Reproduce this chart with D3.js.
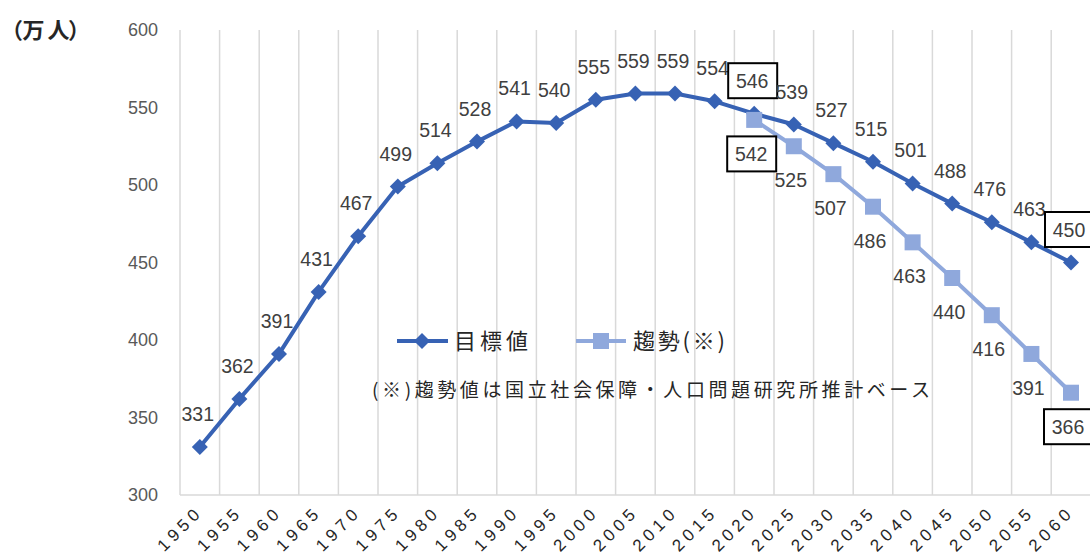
<!DOCTYPE html>
<html><head><meta charset="utf-8">
<script src="https://cdn.jsdelivr.net/npm/d3@7"></script>
<style>
html,body{margin:0;padding:0;background:#fff;}
svg{display:block;}
</style></head>
<body>
<svg id="c" width="1090" height="556"></svg>
<script>
const years = ["1950","1955","1960","1965","1970","1975","1980","1985","1990","1995","2000","2005","2010","2015","2020","2025","2030","2035","2040","2045","2050","2055","2060"];
const targetValues = [331,362,391,431,467,499,514,528,541,540,555,559,559,554,546,539,527,515,501,488,476,463,450];
const trendYears = ["2020","2025","2030","2035","2040","2045","2050","2055","2060"];
const trendValues = [542,525,507,486,463,440,416,391,366];
const yTicks = [300,350,400,450,500,550,600];
const boxedYears = ["2020","2060"];
const seriesNames = ["目標値","趨勢(※)"];
const yTitle = ["（","万","人","）"];
const note = "(※)趨勢値は国立社会保障・人口問題研究所推計ベース";

const svg = d3.select("#c");
const mainColor = "#3762b4", trendColor = "#8fa8dc";
const x = d3.scaleBand().domain(years).range([180, 1090.8]).padding(0);
const y = d3.scaleLinear().domain([300, 600]).range([495, 30]);
const cx = d => x(d) + x.bandwidth() / 2;

// vertical gridlines
svg.append("g").selectAll("line").data(years).join("line")
  .attr("x1", d => x(d)).attr("x2", d => x(d))
  .attr("y1", y(600)).attr("y2", y(300))
  .attr("stroke", "#d9d9d9").attr("stroke-width", 1.5);
// bottom axis line
svg.append("line").attr("x1", 180).attr("x2", 1090).attr("y1", y(300)).attr("y2", y(300))
  .attr("stroke", "#d9d9d9").attr("stroke-width", 1.5);

// y axis
const ya = svg.append("g").attr("transform", "translate(158,0)")
  .call(d3.axisLeft(y).tickValues(yTicks).tickSize(0).tickPadding(0));
ya.select(".domain").remove();
ya.selectAll("text").attr("font-family", "'Liberation Sans', Arial, sans-serif")
  .attr("font-size", 18).attr("fill", "#595959");

// y title (each glyph placed)
const titleX = [1, 22.5, 47.5, 68];
svg.append("g").selectAll("text").data(yTitle).join("text")
  .attr("x", (d, i) => titleX[i]).attr("y", 38).text(d => d)
  .attr("font-family", "'Noto Sans CJK JP', sans-serif").attr("font-size", 22).attr("font-weight", "bold")
  .attr("fill", "#262626");

// x labels
svg.append("g").selectAll("text").data(years).join("text")
  .attr("transform", d => `translate(${cx(d) + 4},${513}) rotate(-45)`)
  .attr("text-anchor", "end")
  .attr("font-family", "'Liberation Sans', Arial, sans-serif").attr("font-size", 17)
  .attr("letter-spacing", 4.5).attr("fill", "#262626")
  .text(d => d);

// lines
const targetData = years.map((d, i) => ({ year: d, v: targetValues[i] }));
const trendData = trendYears.map((d, i) => ({ year: d, v: trendValues[i] }));
const line = d3.line().x(d => cx(d.year)).y(d => y(d.v));

svg.append("path").datum(targetData).attr("d", line).attr("fill", "none")
  .attr("stroke", mainColor).attr("stroke-width", 4).attr("stroke-linejoin", "round");
const diamond = d3.symbol().type(d3.symbolSquare).size(128);
svg.append("g").selectAll("path").data(targetData).join("path")
  .attr("d", diamond)
  .attr("transform", d => `translate(${cx(d.year)},${y(d.v)}) rotate(45)`)
  .attr("fill", mainColor);

svg.append("path").datum(trendData).attr("d", line).attr("fill", "none")
  .attr("stroke", trendColor).attr("stroke-width", 4).attr("stroke-linejoin", "round");
const square = d3.symbol().type(d3.symbolSquare).size(256);
svg.append("g").selectAll("path").data(trendData).join("path")
  .attr("d", square)
  .attr("transform", d => `translate(${cx(d.year)},${y(d.v)})`)
  .attr("fill", trendColor);

// labels
const labelFont = "'Liberation Sans', Arial, sans-serif";
function addLabels(data, dy, dx) {
  const g = svg.append("g");
  data.forEach(d => {
    const lx = cx(d.year) + dx, ly = y(d.v) + dy;
    if (boxedYears.includes(d.year)) {
      g.append("rect").attr("x", lx - 24).attr("y", ly - 17.5).attr("width", 49).attr("height", 35)
        .attr("fill", "#fff").attr("stroke", "#000").attr("stroke-width", 2);
    }
    g.append("text").attr("x", lx).attr("y", ly).attr("dy", "0.36em")
      .attr("text-anchor", "middle").attr("font-family", labelFont).attr("font-size", 19.5)
      .attr("fill", "#404040").text(d.v);
  });
}
addLabels(targetData, -33, -2);
addLabels(trendData, 34, -3);

// legend
const lg = svg.append("g");
lg.append("line").attr("x1", 397).attr("x2", 448).attr("y1", 341).attr("y2", 341)
  .attr("stroke", mainColor).attr("stroke-width", 4);
lg.append("path").attr("d", diamond).attr("transform", "translate(422,341) rotate(45)").attr("fill", mainColor);
lg.append("text").attr("x", 454).attr("y", 341).attr("dy", "0.36em").text(seriesNames[0])
  .attr("font-family", "'Noto Sans CJK JP', sans-serif").attr("font-size", 22).attr("fill", "#262626")
  .attr("textLength", 74).attr("lengthAdjust", "spacing");
lg.append("line").attr("x1", 576).attr("x2", 626).attr("y1", 341).attr("y2", 341)
  .attr("stroke", trendColor).attr("stroke-width", 4);
lg.append("path").attr("d", square).attr("transform", "translate(601,341)").attr("fill", trendColor);
lg.append("text").attr("x", 633).attr("y", 341).attr("dy", "0.36em").text(seriesNames[1])
  .attr("font-family", "'Noto Sans CJK JP', sans-serif").attr("font-size", 22).attr("fill", "#262626")
  .attr("textLength", 92).attr("lengthAdjust", "spacing");

// note
svg.append("text").attr("x", 372).attr("y", 390).attr("dy", "0.36em").text(note)
  .attr("font-family", "'Noto Sans CJK JP', sans-serif").attr("font-size", 19).attr("fill", "#262626")
  .attr("textLength", 558).attr("lengthAdjust", "spacing");
</script>
</body></html>
